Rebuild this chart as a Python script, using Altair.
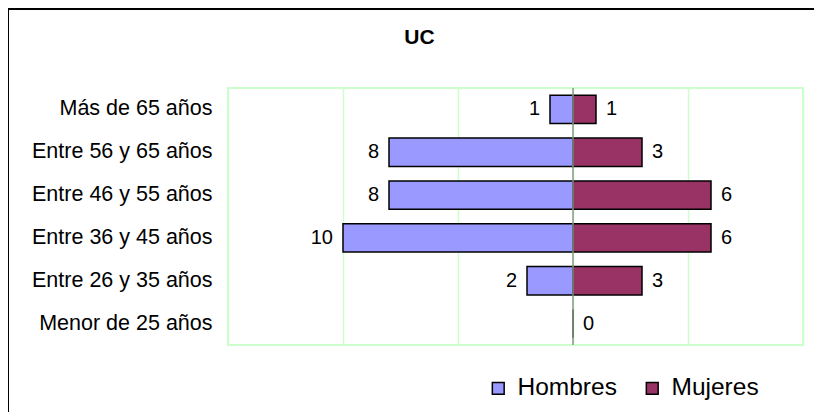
import altair as alt
import pandas as pd

categories = ["Más de 65 años", "Entre 56 y 65 años", "Entre 46 y 55 años",
              "Entre 36 y 45 años", "Entre 26 y 35 años", "Menor de 25 años"]
hombres = [1, 8, 8, 10, 2, None]
mujeres = [1, 3, 6, 6, 3, 0]
series = ["Hombres", "Mujeres"]
colors = ["#9999ff", "#993366"]
x_ticks = [-15, -10, -5, 0, 5, 10]

rows = []
for c, h, m in zip(categories, hombres, mujeres):
    rows.append({"grupo": c, "sexo": "Hombres",
                 "pos": (-h if h is not None else None),
                 "label": (str(h) if h is not None else "")})
    rows.append({"grupo": c, "sexo": "Mujeres", "pos": m, "label": str(m)})
df = pd.DataFrame(rows)

FONT = "Liberation Sans"

y_enc = alt.Y("grupo:N", sort=categories,
              scale=alt.Scale(paddingInner=0.34, paddingOuter=0.17),
              axis=alt.Axis(title=None, ticks=False, domain=False, grid=False,
                            labelFontSize=21.5, labelFont=FONT, labelColor="black",
                            labelPadding=16, labelLimit=300))
x_enc = alt.X("pos:Q", scale=alt.Scale(domain=[-15, 10], nice=False, zero=False),
              axis=alt.Axis(values=x_ticks, grid=True, gridColor="#ccffcc", gridWidth=1.5,
                            labels=False, ticks=False, domain=False, title=None))

base = alt.Chart(df)

bars = base.mark_bar(stroke="black", strokeWidth=1.5).encode(
    y=y_enc, x=x_enc,
    color=alt.Color("sexo:N", scale=alt.Scale(domain=series, range=colors),
                    legend=alt.Legend(orient="none", legendX=258, legendY=288,
                                      direction="horizontal", title=None,
                                      symbolType="square", symbolSize=140,
                                      symbolStrokeColor="black", symbolStrokeWidth=1.5,
                                      labelFontSize=24.5, labelFont=FONT, labelColor="black",
                                      columnPadding=23, labelOffset=7))
)

txt_h = base.transform_filter("datum.sexo == 'Hombres' && datum.label != ''").mark_text(
    align="right", baseline="middle", dx=-10, fontSize=20, font=FONT, color="black"
).encode(y=alt.Y("grupo:N", sort=categories), x="pos:Q", text="label:N")

txt_m = base.transform_filter("datum.sexo == 'Mujeres'").mark_text(
    align="left", baseline="middle", dx=10, fontSize=20, font=FONT, color="black"
).encode(y=alt.Y("grupo:N", sort=categories), x="pos:Q", text="label:N")

center = alt.Chart(pd.DataFrame({"x": [0]})).mark_rule(color="#889988", strokeWidth=1.5).encode(
    x="x:Q"
)

frame_data = pd.DataFrame({"a": [0]})
frame_left = alt.Chart(frame_data).mark_rule(color="black", strokeWidth=2).encode(
    x=alt.value(-220), y=alt.value(-79), y2=alt.value(332))
frame_top = alt.Chart(frame_data).mark_rule(color="black", strokeWidth=2).encode(
    x=alt.value(-220), x2=alt.value(592), y=alt.value(-79))

chart = alt.layer(frame_left, frame_top, bars, center, txt_h, txt_m).properties(
    width=575, height=257,
    padding={"left": 220, "top": 80, "right": 11, "bottom": 67},
    autosize=alt.AutoSizeParams(type="none"),
    title=alt.TitleParams("UC", font=FONT, fontSize=21, fontWeight="bold", color="black",
                          anchor="middle", frame="group", dx=-96, offset=-61,
                          baseline="bottom"),
).configure_view(stroke="#ccffcc", strokeWidth=2)

chart.save("out.html", embed_options={"renderer": "svg", "actions": False})
